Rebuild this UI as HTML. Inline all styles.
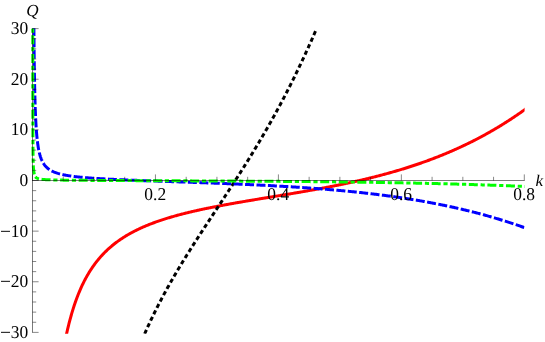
<!DOCTYPE html>
<html><head><meta charset="utf-8"><title>Q(k)</title>
<style>html,body{margin:0;padding:0;background:#fff;width:545px;height:342px;overflow:hidden;font-family:"Liberation Serif",serif}</style>
</head><body>
<svg width="545" height="342" viewBox="0 0 545 342" style="position:absolute;left:0;top:0;display:block">
<rect width="545" height="342" fill="#fff"/>
<clipPath id="pr"><rect x="0" y="28.2" width="524.6" height="305.5"/></clipPath>
<g fill="none" stroke-width="3.0" stroke-linejoin="round" clip-path="url(#pr)">
<path d="M65.30,339.85 65.46,339.07 65.62,338.29 65.78,337.50 65.95,336.72 66.12,335.94 66.28,335.16 66.45,334.38 66.63,333.59 66.80,332.81 66.97,332.03 67.15,331.25 67.33,330.47 67.51,329.69 67.69,328.91 67.88,328.14 68.06,327.36 68.25,326.58 68.44,325.80 68.63,325.03 68.82,324.25 69.02,323.48 69.22,322.70 69.42,321.93 69.62,321.15 69.82,320.38 70.03,319.61 70.23,318.83 70.44,318.06 70.66,317.29 70.87,316.52 71.09,315.75 71.31,314.98 71.53,314.21 71.75,313.44 71.98,312.68 72.21,311.91 72.44,311.14 72.67,310.38 72.91,309.62 73.14,308.85 73.39,308.09 73.63,307.33 73.88,306.57 74.12,305.81 74.38,305.05 74.63,304.29 74.89,303.53 75.15,302.78 75.41,302.02 75.68,301.27 75.95,300.51 76.22,299.76 76.49,299.01 76.77,298.26 77.05,297.51 77.34,296.76 77.63,296.02 77.92,295.27 78.21,294.53 78.51,293.79 78.81,293.04 79.11,292.31 79.42,291.57 79.73,290.83 80.05,290.09 80.37,289.36 80.69,288.63 81.01,287.90 81.34,287.17 81.68,286.44 82.01,285.72 82.35,284.99 82.70,284.27 83.05,283.55 83.40,282.83 83.75,282.12 84.12,281.40 84.48,280.69 84.85,279.98 85.22,279.27 85.60,278.57 85.98,277.87 86.36,277.16 86.75,276.47 87.15,275.77 87.55,275.08 87.95,274.39 88.36,273.70 88.77,273.01 89.18,272.33 89.60,271.65 90.03,270.97 90.46,270.30 90.89,269.62 91.33,268.96 91.78,268.29 92.22,267.63 92.68,266.97 93.13,266.31 93.60,265.66 94.06,265.01 94.53,264.36 95.01,263.72 95.49,263.08 95.98,262.45 96.47,261.81 96.96,261.19 97.46,260.56 97.97,259.94 98.47,259.32 98.99,258.71 99.51,258.10 100.03,257.50 100.56,256.89 101.09,256.30 101.63,255.70 102.17,255.12 102.71,254.53 103.26,253.95 103.82,253.37 104.38,252.80 104.94,252.24 105.51,251.67 106.08,251.11 106.66,250.56 107.24,250.01 107.83,249.47 108.41,248.93 109.01,248.39 109.61,247.86 110.21,247.33 110.81,246.81 111.42,246.29 112.04,245.78 112.65,245.27 113.28,244.77 113.90,244.27 114.53,243.77 115.16,243.28 115.80,242.80 116.44,242.31 117.08,241.84 117.72,241.37 118.37,240.90 119.03,240.44 119.68,239.98 120.34,239.53 121.00,239.08 121.67,238.63 122.34,238.19 123.01,237.76 123.68,237.33 124.36,236.90 125.04,236.48 125.72,236.06 126.40,235.65 127.09,235.24 127.78,234.83 128.47,234.43 129.17,234.03 129.86,233.64 130.56,233.25 131.26,232.87 131.97,232.49 132.67,232.11 133.38,231.74 134.09,231.37 134.80,231.01 135.52,230.65 136.23,230.29 136.95,229.94 137.67,229.59 138.39,229.24 139.11,228.90 139.84,228.56 140.56,228.22 141.29,227.89 142.02,227.56 142.75,227.24 143.48,226.92 144.22,226.60 144.95,226.28 145.69,225.97 146.43,225.66 147.17,225.36 147.91,225.06 148.65,224.76 149.39,224.46 150.14,224.17 150.88,223.88 151.63,223.59 152.38,223.31 153.12,223.02 153.87,222.75 154.62,222.47 155.38,222.20 156.13,221.92 156.88,221.66 157.64,221.39 158.39,221.13 159.15,220.87 159.90,220.61 160.66,220.35 161.42,220.10 162.18,219.85 162.94,219.60 163.70,219.36 164.46,219.11 165.23,218.87 165.99,218.63 166.75,218.39 167.52,218.16 168.28,217.92 169.05,217.69 169.81,217.46 170.58,217.24 171.35,217.01 172.12,216.79 172.89,216.57 173.65,216.35 174.42,216.13 175.19,215.92 175.97,215.70 176.74,215.49 177.51,215.28 178.28,215.07 179.05,214.86 179.83,214.66 180.60,214.45 181.37,214.25 182.15,214.05 182.92,213.85 183.70,213.65 184.47,213.46 185.25,213.26 186.02,213.07 186.80,212.88 187.58,212.69 188.36,212.50 189.13,212.31 189.91,212.13 190.69,211.94 191.47,211.76 192.25,211.58 193.03,211.40 193.80,211.22 194.58,211.04 195.36,210.86 196.14,210.68 196.92,210.51 197.71,210.33 198.49,210.16 199.27,209.99 200.05,209.82 200.83,209.65 201.61,209.48 202.39,209.31 203.18,209.15 203.96,208.98 204.74,208.82 205.52,208.65 206.31,208.49 207.09,208.33 207.87,208.17 208.66,208.01 209.44,207.85 210.23,207.69 211.01,207.53 211.79,207.38 212.58,207.22 213.36,207.07 214.15,206.91 214.93,206.76 215.72,206.61 216.50,206.45 217.29,206.30 218.08,206.15 218.86,206.00 219.65,205.85 220.43,205.71 221.22,205.56 222.00,205.41 222.79,205.26 223.58,205.12 224.36,204.97 225.15,204.83 225.94,204.68 226.72,204.54 227.51,204.40 228.30,204.25 229.08,204.11 229.87,203.97 230.66,203.83 231.45,203.69 232.23,203.55 233.02,203.41 233.81,203.27 234.60,203.13 235.38,202.99 236.17,202.85 236.96,202.72 237.75,202.58 238.54,202.44 239.32,202.31 240.11,202.17 240.90,202.03 241.69,201.90 242.48,201.76 243.27,201.63 244.05,201.49 244.84,201.36 245.63,201.23 246.42,201.09 247.21,200.96 248.00,200.83 248.79,200.69 249.57,200.56 250.36,200.43 251.15,200.30 251.94,200.16 252.73,200.03 253.52,199.90 254.31,199.77 255.10,199.64 255.89,199.51 256.67,199.38 257.46,199.25 258.25,199.11 259.04,198.98 259.83,198.85 260.62,198.72 261.41,198.59 262.20,198.46 262.99,198.33 263.78,198.20 264.57,198.07 265.36,197.94 266.14,197.81 266.93,197.68 267.72,197.55 268.51,197.42 269.30,197.29 270.09,197.17 270.88,197.04 271.67,196.91 272.46,196.78 273.25,196.65 274.04,196.52 274.83,196.39 275.62,196.26 276.40,196.13 277.19,196.00 277.98,195.87 278.77,195.74 279.56,195.61 280.35,195.48 281.14,195.34 281.93,195.21 282.72,195.08 283.51,194.95 284.30,194.82 285.08,194.69 285.87,194.56 286.66,194.43 287.45,194.30 288.24,194.16 289.03,194.03 289.82,193.90 290.61,193.77 291.40,193.63 292.18,193.50 292.97,193.37 293.76,193.23 294.55,193.10 295.34,192.97 296.13,192.83 296.92,192.70 297.70,192.56 298.49,192.43 299.28,192.29 300.07,192.16 300.86,192.02 301.64,191.89 302.43,191.75 303.22,191.61 304.01,191.48 304.80,191.34 305.58,191.20 306.37,191.06 307.16,190.92 307.95,190.78 308.74,190.64 309.52,190.51 310.31,190.37 311.10,190.22 311.89,190.08 312.67,189.94 313.46,189.80 314.25,189.66 315.03,189.52 315.82,189.37 316.61,189.23 317.39,189.09 318.18,188.94 318.97,188.80 319.75,188.65 320.54,188.51 321.33,188.36 322.11,188.21 322.90,188.06 323.69,187.92 324.47,187.77 325.26,187.62 326.04,187.47 326.83,187.32 327.61,187.17 328.40,187.02 329.18,186.87 329.97,186.72 330.76,186.56 331.54,186.41 332.32,186.26 333.11,186.10 333.89,185.95 334.68,185.79 335.46,185.63 336.25,185.48 337.03,185.32 337.82,185.16 338.60,185.00 339.38,184.84 340.17,184.68 340.95,184.52 341.73,184.36 342.52,184.20 343.30,184.04 344.08,183.87 344.87,183.71 345.65,183.54 346.43,183.38 347.21,183.21 348.00,183.04 348.78,182.88 349.56,182.71 350.34,182.54 351.12,182.37 351.90,182.20 352.69,182.03 353.47,181.85 354.25,181.68 355.03,181.51 355.81,181.33 356.59,181.16 357.37,180.98 358.15,180.80 358.93,180.63 359.71,180.45 360.49,180.27 361.27,180.09 362.05,179.91 362.82,179.72 363.60,179.54 364.38,179.36 365.16,179.17 365.94,178.99 366.72,178.80 367.49,178.61 368.27,178.43 369.05,178.24 369.82,178.05 370.60,177.86 371.38,177.66 372.15,177.47 372.93,177.28 373.71,177.08 374.48,176.89 375.26,176.69 376.03,176.49 376.81,176.30 377.58,176.10 378.36,175.90 379.13,175.70 379.90,175.49 380.68,175.29 381.45,175.09 382.22,174.88 383.00,174.67 383.77,174.47 384.54,174.26 385.31,174.05 386.09,173.84 386.86,173.63 387.63,173.42 388.40,173.20 389.17,172.99 389.94,172.77 390.71,172.56 391.48,172.34 392.25,172.12 393.02,171.90 393.79,171.68 394.55,171.46 395.32,171.23 396.09,171.01 396.86,170.78 397.62,170.56 398.39,170.33 399.16,170.10 399.92,169.87 400.69,169.64 401.45,169.41 402.22,169.17 402.98,168.94 403.75,168.70 404.51,168.47 405.28,168.23 406.04,167.99 406.80,167.75 407.57,167.51 408.33,167.27 409.09,167.02 409.85,166.78 410.61,166.53 411.37,166.28 412.13,166.04 412.89,165.79 413.65,165.53 414.41,165.28 415.17,165.03 415.93,164.77 416.68,164.52 417.44,164.26 418.20,164.00 418.96,163.74 419.71,163.48 420.47,163.22 421.22,162.96 421.98,162.69 422.73,162.43 423.49,162.16 424.24,161.89 424.99,161.62 425.74,161.35 426.50,161.08 427.25,160.80 428.00,160.53 428.75,160.25 429.50,159.97 430.25,159.69 431.00,159.41 431.75,159.13 432.49,158.85 433.24,158.56 433.99,158.28 434.74,157.99 435.48,157.70 436.23,157.41 436.97,157.12 437.72,156.83 438.46,156.54 439.20,156.24 439.95,155.95 440.69,155.65 441.43,155.35 442.17,155.05 442.91,154.75 443.65,154.44 444.39,154.14 445.13,153.83 445.87,153.53 446.61,153.22 447.35,152.91 448.08,152.60 448.82,152.28 449.55,151.97 450.29,151.65 451.02,151.34 451.76,151.02 452.49,150.70 453.22,150.38 453.95,150.05 454.69,149.73 455.42,149.40 456.15,149.08 456.87,148.75 457.60,148.42 458.33,148.09 459.06,147.75 459.79,147.42 460.51,147.09 461.24,146.75 461.96,146.41 462.69,146.07 463.41,145.73 464.13,145.39 464.85,145.04 465.58,144.70 466.30,144.35 467.02,144.00 467.74,143.65 468.45,143.30 469.17,142.95 469.89,142.60 470.61,142.24 471.32,141.88 472.04,141.53 472.75,141.17 473.47,140.80 474.18,140.44 474.89,140.08 475.60,139.71 476.31,139.35 477.02,138.98 477.73,138.61 478.44,138.24 479.15,137.86 479.86,137.49 480.56,137.11 481.27,136.74 481.97,136.36 482.68,135.98 483.38,135.60 484.08,135.21 484.78,134.83 485.48,134.45 486.18,134.06 486.88,133.67 487.58,133.28 488.28,132.89 488.97,132.50 489.67,132.10 490.37,131.71 491.06,131.31 491.75,130.91 492.45,130.51 493.14,130.11 493.83,129.71 494.52,129.30 495.21,128.90 495.90,128.49 496.58,128.08 497.27,127.67 497.96,127.26 498.64,126.85 499.33,126.43 500.01,126.02 500.69,125.60 501.37,125.18 502.06,124.76 502.74,124.34 503.41,123.92 504.09,123.50 504.77,123.07 505.45,122.64 506.12,122.22 506.80,121.79 507.47,121.35 508.14,120.92 508.82,120.49 509.49,120.05 510.16,119.62 510.83,119.18 511.50,118.74 512.16,118.30 512.83,117.86 513.50,117.41 514.16,116.97 514.82,116.52 515.49,116.08 516.15,115.63 516.81,115.18 517.47,114.73 518.13,114.27 518.79,113.82 519.45,113.36 520.10,112.91 520.76,112.45 521.41,111.99 522.07,111.53 522.72,111.07 523.37,110.60 524.02,110.14 524.67,109.67 525.32,109.20 525.97,108.74 526.62,108.27 527.26,107.79 527.91,107.32" stroke="#ff0000"/>
<path transform="translate(0.3,0)" d="M141.73,339.85 142.04,339.12 142.36,338.38 142.67,337.65 142.99,336.92 143.31,336.19 143.63,335.45 143.95,334.72 144.27,333.99 144.59,333.26 144.91,332.53 145.24,331.80 145.56,331.07 145.89,330.34 146.21,329.61 146.54,328.89 146.87,328.16 147.20,327.43 147.54,326.71 147.87,325.98 148.20,325.26 148.54,324.53 148.87,323.81 149.21,323.08 149.55,322.36 149.89,321.64 150.23,320.92 150.57,320.19 150.91,319.47 151.26,318.75 151.60,318.03 151.95,317.31 152.29,316.59 152.64,315.87 152.99,315.16 153.34,314.44 153.69,313.72 154.04,313.00 154.40,312.29 154.75,311.57 155.11,310.86 155.46,310.14 155.82,309.43 156.18,308.72 156.54,308.00 156.90,307.29 157.26,306.58 157.62,305.87 157.98,305.16 158.35,304.45 158.71,303.74 159.08,303.03 159.45,302.32 159.81,301.61 160.18,300.90 160.55,300.19 160.93,299.49 161.30,298.78 161.67,298.07 162.05,297.37 162.42,296.66 162.80,295.96 163.17,295.26 163.55,294.55 163.93,293.85 164.31,293.15 164.69,292.45 165.07,291.74 165.45,291.04 165.84,290.34 166.22,289.64 166.61,288.94 166.99,288.25 167.38,287.55 167.77,286.85 168.16,286.15 168.55,285.46 168.94,284.76 169.33,284.06 169.72,283.37 170.11,282.67 170.51,281.98 170.90,281.28 171.30,280.59 171.70,279.90 172.09,279.21 172.49,278.51 172.89,277.82 173.29,277.13 173.69,276.44 174.09,275.75 174.49,275.06 174.90,274.37 175.30,273.68 175.70,272.99 176.11,272.30 176.51,271.62 176.92,270.93 177.33,270.24 177.74,269.56 178.14,268.87 178.55,268.19 178.96,267.50 179.38,266.82 179.79,266.13 180.20,265.45 180.61,264.76 181.02,264.08 181.44,263.40 181.85,262.72 182.27,262.03 182.68,261.35 183.10,260.67 183.52,259.99 183.94,259.31 184.35,258.63 184.77,257.95 185.19,257.27 185.61,256.59 186.03,255.91 186.46,255.24 186.88,254.56 187.30,253.88 187.72,253.20 188.15,252.53 188.57,251.85 188.99,251.17 189.42,250.50 189.84,249.82 190.27,249.15 190.70,248.47 191.12,247.80 191.55,247.12 191.98,246.45 192.41,245.77 192.83,245.10 193.26,244.43 193.69,243.75 194.12,243.08 194.55,242.41 194.98,241.74 195.41,241.06 195.85,240.39 196.28,239.72 196.71,239.05 197.14,238.38 197.57,237.71 198.01,237.04 198.44,236.36 198.87,235.69 199.31,235.02 199.74,234.35 200.18,233.68 200.61,233.01 201.05,232.35 201.48,231.68 201.92,231.01 202.35,230.34 202.79,229.67 203.22,229.00 203.66,228.33 204.10,227.66 204.53,226.99 204.97,226.33 205.41,225.66 205.85,224.99 206.28,224.32 206.72,223.66 207.16,222.99 207.60,222.32 208.04,221.65 208.47,220.99 208.91,220.32 209.35,219.65 209.79,218.98 210.23,218.32 210.67,217.65 211.11,216.98 211.54,216.32 211.98,215.65 212.42,214.98 212.86,214.31 213.30,213.65 213.74,212.98 214.18,212.31 214.62,211.65 215.06,210.98 215.50,210.31 215.94,209.65 216.37,208.98 216.81,208.31 217.25,207.65 217.69,206.98 218.13,206.31 218.57,205.65 219.01,204.98 219.45,204.31 219.89,203.65 220.32,202.98 220.76,202.31 221.20,201.64 221.64,200.98 222.08,200.31 222.52,199.64 222.95,198.97 223.39,198.31 223.83,197.64 224.27,196.97 224.70,196.30 225.14,195.63 225.58,194.97 226.02,194.30 226.45,193.63 226.89,192.96 227.33,192.29 227.76,191.62 228.20,190.96 228.63,190.29 229.07,189.62 229.50,188.95 229.94,188.28 230.37,187.61 230.81,186.94 231.24,186.27 231.68,185.60 232.11,184.93 232.54,184.26 232.98,183.59 233.41,182.92 233.84,182.25 234.28,181.57 234.71,180.90 235.14,180.23 235.57,179.56 236.00,178.89 236.43,178.22 236.86,177.54 237.29,176.87 237.72,176.20 238.15,175.52 238.58,174.85 239.01,174.18 239.44,173.50 239.87,172.83 240.30,172.16 240.72,171.48 241.15,170.81 241.58,170.13 242.00,169.46 242.43,168.78 242.86,168.11 243.28,167.43 243.70,166.75 244.13,166.08 244.55,165.40 244.98,164.73 245.40,164.05 245.82,163.37 246.24,162.69 246.67,162.02 247.09,161.34 247.51,160.66 247.93,159.98 248.35,159.30 248.77,158.62 249.19,157.94 249.61,157.26 250.02,156.58 250.44,155.90 250.86,155.22 251.28,154.54 251.69,153.86 252.11,153.18 252.52,152.50 252.94,151.81 253.35,151.13 253.77,150.45 254.18,149.76 254.59,149.08 255.01,148.40 255.42,147.71 255.83,147.03 256.24,146.35 256.65,145.66 257.06,144.98 257.47,144.29 257.88,143.60 258.29,142.92 258.69,142.23 259.10,141.54 259.51,140.86 259.91,140.17 260.32,139.48 260.73,138.79 261.13,138.11 261.53,137.42 261.94,136.73 262.34,136.04 262.74,135.35 263.14,134.66 263.55,133.97 263.95,133.28 264.35,132.59 264.75,131.90 265.15,131.21 265.54,130.51 265.94,129.82 266.34,129.13 266.74,128.44 267.13,127.74 267.53,127.05 267.92,126.36 268.32,125.66 268.71,124.97 269.10,124.27 269.50,123.58 269.89,122.88 270.28,122.19 270.67,121.49 271.06,120.79 271.45,120.10 271.84,119.40 272.23,118.70 272.62,118.00 273.01,117.31 273.39,116.61 273.78,115.91 274.16,115.21 274.55,114.51 274.93,113.81 275.32,113.11 275.70,112.41 276.08,111.71 276.47,111.01 276.85,110.31 277.23,109.60 277.61,108.90 277.99,108.20 278.37,107.50 278.75,106.79 279.12,106.09 279.50,105.39 279.88,104.68 280.25,103.98 280.63,103.27 281.00,102.57 281.38,101.86 281.75,101.16 282.12,100.45 282.50,99.75 282.87,99.04 283.24,98.33 283.61,97.63 283.98,96.92 284.35,96.21 284.72,95.50 285.09,94.79 285.45,94.09 285.82,93.38 286.19,92.67 286.55,91.96 286.92,91.25 287.28,90.54 287.65,89.83 288.01,89.11 288.37,88.40 288.73,87.69 289.09,86.98 289.46,86.27 289.82,85.56 290.18,84.84 290.53,84.13 290.89,83.42 291.25,82.70 291.61,81.99 291.96,81.27 292.32,80.56 292.68,79.84 293.03,79.13 293.38,78.41 293.74,77.70 294.09,76.98 294.44,76.26 294.79,75.55 295.15,74.83 295.50,74.11 295.85,73.40 296.20,72.68 296.54,71.96 296.89,71.24 297.24,70.52 297.59,69.80 297.93,69.08 298.28,68.36 298.62,67.64 298.97,66.92 299.31,66.20 299.65,65.48 300.00,64.76 300.34,64.04 300.68,63.32 301.02,62.60 301.36,61.87 301.70,61.15 302.04,60.43 302.38,59.70 302.72,58.98 303.05,58.26 303.39,57.53 303.73,56.81 304.06,56.09 304.40,55.36 304.73,54.64 305.07,53.91 305.40,53.18 305.73,52.46 306.06,51.73 306.40,51.01 306.73,50.28 307.06,49.55 307.39,48.83 307.72,48.10 308.04,47.37 308.37,46.64 308.70,45.91 309.03,45.19 309.35,44.46 309.68,43.73 310.00,43.00 310.33,42.27 310.65,41.54 310.98,40.81 311.30,40.08 311.62,39.35 311.94,38.62 312.26,37.89 312.58,37.16 312.90,36.43 313.22,35.69 313.54,34.96 313.86,34.23 314.18,33.50 314.50,32.76 314.81,32.03 315.13,31.30 315.44,30.56" stroke="#000000" stroke-dasharray="4.27 2.89" stroke-dashoffset="0.50"/>
<path d="M33.85,20.95 33.86,21.75 33.86,22.55 33.87,23.35 33.87,24.15 33.88,24.95 33.89,25.75 33.89,26.55 33.90,27.35 33.91,28.15 33.91,28.95 33.92,29.74 33.93,30.54 33.93,31.34 33.94,32.14 33.95,32.94 33.95,33.74 33.96,34.54 33.97,35.34 33.97,36.14 33.98,36.94 33.99,37.74 33.99,38.54 34.00,39.34 34.01,40.14 34.02,40.94 34.02,41.74 34.03,42.54 34.04,43.34 34.05,44.14 34.06,44.94 34.06,45.74 34.07,46.54 34.08,47.34 34.09,48.14 34.10,48.94 34.11,49.74 34.11,50.54 34.12,51.34 34.13,52.14 34.14,52.94 34.15,53.74 34.16,54.54 34.17,55.34 34.18,56.14 34.19,56.94 34.20,57.74 34.21,58.54 34.22,59.34 34.23,60.14 34.24,60.94 34.25,61.74 34.26,62.54 34.27,63.34 34.28,64.14 34.29,64.94 34.30,65.74 34.31,66.53 34.32,67.33 34.34,68.13 34.35,68.93 34.36,69.73 34.37,70.53 34.38,71.33 34.40,72.13 34.41,72.93 34.42,73.73 34.43,74.53 34.45,75.33 34.46,76.13 34.47,76.93 34.49,77.73 34.50,78.53 34.52,79.33 34.53,80.13 34.55,80.93 34.56,81.73 34.58,82.53 34.59,83.33 34.61,84.13 34.62,84.93 34.64,85.73 34.66,86.53 34.67,87.33 34.69,88.13 34.71,88.93 34.73,89.73 34.74,90.53 34.76,91.33 34.78,92.13 34.80,92.92 34.82,93.72 34.84,94.52 34.86,95.32 34.88,96.12 34.90,96.92 34.92,97.72 34.94,98.52 34.97,99.32 34.99,100.12 35.01,100.92 35.03,101.72 35.06,102.52 35.08,103.32 35.11,104.12 35.13,104.92 35.16,105.72 35.19,106.52 35.21,107.32 35.24,108.12 35.27,108.91 35.30,109.71 35.33,110.51 35.36,111.31 35.39,112.11 35.42,112.91 35.45,113.71 35.49,114.51 35.52,115.31 35.56,116.11 35.59,116.91 35.63,117.71 35.67,118.50 35.71,119.30 35.75,120.10 35.79,120.90 35.83,121.70 35.87,122.50 35.92,123.30 35.96,124.10 36.01,124.89 36.06,125.69 36.11,126.49 36.16,127.29 36.21,128.09 36.27,128.88 36.32,129.68 36.38,130.48 36.44,131.28 36.50,132.08 36.56,132.87 36.63,133.67 36.70,134.47 36.77,135.26 36.84,136.06 36.92,136.86 37.00,137.65 37.08,138.45 37.16,139.24 37.25,140.04 37.34,140.83 37.44,141.63 37.54,142.42 37.64,143.21 37.75,144.01 37.86,144.80 37.98,145.59 38.10,146.38 38.23,147.17 38.36,147.96 38.50,148.74 38.65,149.53 38.80,150.32 38.97,151.10 39.14,151.88 39.32,152.66 39.51,153.44 39.71,154.21 39.92,154.98 40.15,155.75 40.38,156.51 40.63,157.27 40.90,158.03 41.18,158.78 41.48,159.52 41.80,160.25 42.14,160.98 42.49,161.69 42.87,162.40 43.28,163.09 43.70,163.76 44.15,164.43 44.63,165.07 45.13,165.69 45.65,166.30 46.20,166.88 46.77,167.44 47.36,167.98 47.98,168.49 48.61,168.98 49.26,169.44 49.93,169.88 50.61,170.30 51.31,170.69 52.02,171.06 52.74,171.41 53.46,171.74 54.20,172.06 54.94,172.35 55.69,172.63 56.45,172.90 57.21,173.15 57.97,173.39 58.74,173.61 59.51,173.83 60.28,174.03 61.06,174.23 61.83,174.41 62.61,174.59 63.40,174.76 64.18,174.92 64.96,175.07 65.75,175.22 66.54,175.36 67.33,175.50 68.11,175.63 68.90,175.75 69.70,175.88 70.49,175.99 71.28,176.11 72.07,176.21 72.86,176.32 73.66,176.42 74.45,176.52 75.24,176.62 76.04,176.71 76.83,176.80 77.63,176.88 78.42,176.97 79.22,177.05 80.02,177.13 80.81,177.21 81.61,177.29 82.40,177.36 83.20,177.43 84.00,177.50 84.79,177.57 85.59,177.64 86.39,177.70 87.19,177.77 87.98,177.83 88.78,177.89 89.58,177.95 90.38,178.01 91.17,178.07 91.97,178.13 92.77,178.18 93.57,178.24 94.37,178.29 95.16,178.35 95.96,178.40 96.76,178.45 97.56,178.50 98.36,178.55 99.15,178.60 99.95,178.64 100.75,178.69 101.55,178.74 102.35,178.78 103.15,178.83 103.95,178.87 104.74,178.92 105.54,178.96 106.34,179.00 107.14,179.05 107.94,179.09 108.74,179.13 109.54,179.17 110.34,179.21 111.13,179.25 111.93,179.29 112.73,179.33 113.53,179.37 114.33,179.41 115.13,179.44 115.93,179.48 116.73,179.52 117.53,179.55 118.32,179.59 119.12,179.63 119.92,179.66 120.72,179.70 121.52,179.73 122.32,179.77 123.12,179.80 123.92,179.84 124.72,179.87 125.52,179.91 126.32,179.94 127.11,179.97 127.91,180.01 128.71,180.04 129.51,180.07 130.31,180.10 131.11,180.14 131.91,180.17 132.71,180.20 133.51,180.23 134.31,180.26 135.11,180.29 135.91,180.33 136.70,180.36 137.50,180.39 138.30,180.42 139.10,180.45 139.90,180.48 140.70,180.51 141.50,180.54 142.30,180.57 143.10,180.60 143.90,180.63 144.70,180.66 145.50,180.69 146.30,180.72 147.10,180.75 147.89,180.78 148.69,180.81 149.49,180.84 150.29,180.86 151.09,180.89 151.89,180.92 152.69,180.95 153.49,180.98 154.29,181.01 155.09,181.04 155.89,181.07 156.69,181.09 157.49,181.12 158.29,181.15 159.08,181.18 159.88,181.21 160.68,181.24 161.48,181.26 162.28,181.29 163.08,181.32 163.88,181.35 164.68,181.38 165.48,181.40 166.28,181.43 167.08,181.46 167.88,181.49 168.68,181.52 169.48,181.54 170.28,181.57 171.08,181.60 171.87,181.63 172.67,181.66 173.47,181.68 174.27,181.71 175.07,181.74 175.87,181.77 176.67,181.79 177.47,181.82 178.27,181.85 179.07,181.88 179.87,181.91 180.67,181.93 181.47,181.96 182.27,181.99 183.07,182.02 183.86,182.05 184.66,182.07 185.46,182.10 186.26,182.13 187.06,182.16 187.86,182.19 188.66,182.21 189.46,182.24 190.26,182.27 191.06,182.30 191.86,182.33 192.66,182.36 193.46,182.38 194.26,182.41 195.06,182.44 195.85,182.47 196.65,182.50 197.45,182.53 198.25,182.56 199.05,182.58 199.85,182.61 200.65,182.64 201.45,182.67 202.25,182.70 203.05,182.73 203.85,182.76 204.65,182.79 205.45,182.82 206.25,182.85 207.04,182.88 207.84,182.91 208.64,182.94 209.44,182.96 210.24,182.99 211.04,183.02 211.84,183.05 212.64,183.08 213.44,183.11 214.24,183.15 215.04,183.18 215.84,183.21 216.64,183.24 217.44,183.27 218.23,183.30 219.03,183.33 219.83,183.36 220.63,183.39 221.43,183.42 222.23,183.45 223.03,183.49 223.83,183.52 224.63,183.55 225.43,183.58 226.23,183.61 227.03,183.64 227.82,183.68 228.62,183.71 229.42,183.74 230.22,183.77 231.02,183.81 231.82,183.84 232.62,183.87 233.42,183.91 234.22,183.94 235.02,183.97 235.82,184.01 236.62,184.04 237.41,184.07 238.21,184.11 239.01,184.14 239.81,184.18 240.61,184.21 241.41,184.25 242.21,184.28 243.01,184.32 243.81,184.35 244.61,184.39 245.41,184.42 246.20,184.46 247.00,184.49 247.80,184.53 248.60,184.57 249.40,184.60 250.20,184.64 251.00,184.68 251.80,184.71 252.60,184.75 253.40,184.79 254.19,184.83 254.99,184.86 255.79,184.90 256.59,184.94 257.39,184.98 258.19,185.02 258.99,185.06 259.79,185.10 260.59,185.14 261.38,185.17 262.18,185.21 262.98,185.25 263.78,185.29 264.58,185.33 265.38,185.38 266.18,185.42 266.98,185.46 267.77,185.50 268.57,185.54 269.37,185.58 270.17,185.62 270.97,185.67 271.77,185.71 272.57,185.75 273.37,185.79 274.16,185.84 274.96,185.88 275.76,185.92 276.56,185.97 277.36,186.01 278.16,186.06 278.96,186.10 279.75,186.15 280.55,186.19 281.35,186.24 282.15,186.28 282.95,186.33 283.75,186.38 284.55,186.42 285.34,186.47 286.14,186.52 286.94,186.57 287.74,186.61 288.54,186.66 289.34,186.71 290.13,186.76 290.93,186.81 291.73,186.86 292.53,186.91 293.33,186.96 294.13,187.01 294.92,187.06 295.72,187.11 296.52,187.16 297.32,187.21 298.12,187.26 298.91,187.32 299.71,187.37 300.51,187.42 301.31,187.47 302.11,187.53 302.91,187.58 303.70,187.64 304.50,187.69 305.30,187.74 306.10,187.80 306.89,187.86 307.69,187.91 308.49,187.97 309.29,188.02 310.09,188.08 310.88,188.14 311.68,188.20 312.48,188.26 313.28,188.31 314.07,188.37 314.87,188.43 315.67,188.49 316.47,188.55 317.27,188.61 318.06,188.67 318.86,188.73 319.66,188.80 320.46,188.86 321.25,188.92 322.05,188.98 322.85,189.05 323.64,189.11 324.44,189.17 325.24,189.24 326.04,189.30 326.83,189.37 327.63,189.43 328.43,189.50 329.22,189.57 330.02,189.63 330.82,189.70 331.62,189.77 332.41,189.84 333.21,189.91 334.01,189.98 334.80,190.04 335.60,190.11 336.40,190.19 337.19,190.26 337.99,190.33 338.79,190.40 339.58,190.47 340.38,190.54 341.18,190.62 341.97,190.69 342.77,190.77 343.57,190.84 344.36,190.92 345.16,190.99 345.95,191.07 346.75,191.14 347.55,191.22 348.34,191.30 349.14,191.38 349.93,191.46 350.73,191.54 351.53,191.62 352.32,191.70 353.12,191.78 353.91,191.86 354.71,191.94 355.50,192.02 356.30,192.11 357.10,192.19 357.89,192.27 358.69,192.36 359.48,192.44 360.28,192.53 361.07,192.61 361.87,192.70 362.66,192.79 363.46,192.88 364.25,192.96 365.05,193.05 365.84,193.14 366.64,193.23 367.43,193.32 368.23,193.41 369.02,193.51 369.81,193.60 370.61,193.69 371.40,193.78 372.20,193.88 372.99,193.97 373.79,194.07 374.58,194.16 375.37,194.26 376.17,194.36 376.96,194.46 377.76,194.55 378.55,194.65 379.34,194.75 380.14,194.85 380.93,194.95 381.72,195.05 382.52,195.16 383.31,195.26 384.10,195.36 384.90,195.47 385.69,195.57 386.48,195.68 387.27,195.78 388.07,195.89 388.86,196.00 389.65,196.10 390.44,196.21 391.24,196.32 392.03,196.43 392.82,196.54 393.61,196.65 394.41,196.77 395.20,196.88 395.99,196.99 396.78,197.11 397.57,197.22 398.36,197.34 399.16,197.45 399.95,197.57 400.74,197.69 401.53,197.80 402.32,197.92 403.11,198.04 403.90,198.16 404.69,198.28 405.48,198.41 406.27,198.53 407.06,198.65 407.85,198.78 408.64,198.90 409.43,199.03 410.22,199.15 411.01,199.28 411.80,199.41 412.59,199.54 413.38,199.67 414.17,199.80 414.96,199.93 415.75,200.06 416.54,200.19 417.33,200.32 418.11,200.46 418.90,200.59 419.69,200.73 420.48,200.86 421.27,201.00 422.05,201.14 422.84,201.28 423.63,201.42 424.42,201.56 425.20,201.70 425.99,201.84 426.78,201.98 427.57,202.13 428.35,202.27 429.14,202.42 429.93,202.56 430.71,202.71 431.50,202.86 432.28,203.01 433.07,203.15 433.85,203.30 434.64,203.46 435.43,203.61 436.21,203.76 437.00,203.91 437.78,204.07 438.56,204.22 439.35,204.38 440.13,204.54 440.92,204.70 441.70,204.85 442.49,205.01 443.27,205.17 444.05,205.34 444.84,205.50 445.62,205.66 446.40,205.83 447.18,205.99 447.97,206.16 448.75,206.32 449.53,206.49 450.31,206.66 451.09,206.83 451.88,207.00 452.66,207.17 453.44,207.34 454.22,207.52 455.00,207.69 455.78,207.87 456.56,208.04 457.34,208.22 458.12,208.40 458.90,208.58 459.68,208.76 460.46,208.94 461.24,209.12 462.01,209.30 462.79,209.49 463.57,209.67 464.35,209.86 465.13,210.04 465.90,210.23 466.68,210.42 467.46,210.61 468.24,210.80 469.01,210.99 469.79,211.18 470.56,211.38 471.34,211.57 472.12,211.77 472.89,211.96 473.67,212.16 474.44,212.36 475.22,212.56 475.99,212.76 476.76,212.96 477.54,213.16 478.31,213.37 479.08,213.57 479.86,213.78 480.63,213.98 481.40,214.19 482.17,214.40 482.95,214.61 483.72,214.82 484.49,215.03 485.26,215.25 486.03,215.46 486.80,215.67 487.57,215.89 488.34,216.11 489.11,216.33 489.88,216.54 490.65,216.77 491.42,216.99 492.19,217.21 492.95,217.43 493.72,217.66 494.49,217.88 495.26,218.11 496.02,218.34 496.79,218.57 497.56,218.80 498.32,219.03 499.09,219.26 499.85,219.49 500.62,219.73 501.38,219.96 502.15,220.20 502.91,220.43 503.67,220.67 504.44,220.91 505.20,221.15 505.96,221.40 506.72,221.64 507.48,221.88 508.25,222.13 509.01,222.37 509.77,222.62 510.53,222.87 511.29,223.12 512.05,223.37 512.81,223.62 513.56,223.88 514.32,224.13 515.08,224.38 515.84,224.64 516.60,224.90 517.35,225.16 518.11,225.42 518.87,225.68 519.62,225.94 520.38,226.20 521.13,226.47 521.89,226.73 522.64,227.00 523.39,227.27 524.15,227.54 524.90,227.81 525.65,228.08 526.40,228.35 527.16,228.62 527.91,228.90" stroke="#0000ff" stroke-dasharray="9 2.44" stroke-dashoffset="5.46"/>
<path d="M32.76,20.95 32.76,21.75 32.76,22.55 32.76,23.35 32.76,24.15 32.76,24.95 32.76,25.75 32.76,26.55 32.76,27.35 32.76,28.15 32.76,28.95 32.76,29.75 32.76,30.55 32.76,31.35 32.76,32.14 32.76,32.94 32.76,33.74 32.76,34.54 32.76,35.34 32.76,36.14 32.77,36.94 32.77,37.74 32.77,38.54 32.77,39.34 32.77,40.14 32.77,40.94 32.77,41.74 32.77,42.54 32.77,43.34 32.77,44.14 32.77,44.94 32.77,45.74 32.77,46.54 32.77,47.34 32.77,48.14 32.77,48.94 32.77,49.74 32.77,50.54 32.77,51.34 32.77,52.14 32.77,52.94 32.77,53.74 32.77,54.54 32.77,55.34 32.78,56.14 32.78,56.94 32.78,57.74 32.78,58.54 32.78,59.34 32.78,60.14 32.78,60.94 32.78,61.74 32.78,62.54 32.78,63.34 32.78,64.14 32.78,64.94 32.78,65.74 32.78,66.54 32.78,67.34 32.78,68.14 32.78,68.94 32.78,69.74 32.79,70.54 32.79,71.34 32.79,72.14 32.79,72.94 32.79,73.74 32.79,74.54 32.79,75.34 32.79,76.14 32.79,76.94 32.79,77.74 32.79,78.54 32.79,79.34 32.79,80.14 32.79,80.94 32.79,81.74 32.80,82.54 32.80,83.34 32.80,84.13 32.80,84.93 32.80,85.73 32.80,86.53 32.80,87.33 32.80,88.13 32.80,88.93 32.80,89.73 32.80,90.53 32.80,91.33 32.81,92.13 32.81,92.93 32.81,93.73 32.81,94.53 32.81,95.33 32.81,96.13 32.81,96.93 32.81,97.73 32.81,98.53 32.82,99.33 32.82,100.13 32.82,100.93 32.82,101.73 32.82,102.53 32.82,103.33 32.82,104.13 32.82,104.93 32.83,105.73 32.83,106.53 32.83,107.33 32.83,108.13 32.83,108.93 32.83,109.73 32.83,110.53 32.84,111.33 32.84,112.13 32.84,112.93 32.84,113.73 32.84,114.53 32.84,115.33 32.85,116.13 32.85,116.93 32.85,117.73 32.85,118.53 32.85,119.33 32.86,120.13 32.86,120.93 32.86,121.73 32.86,122.53 32.86,123.33 32.87,124.13 32.87,124.93 32.87,125.73 32.87,126.53 32.88,127.33 32.88,128.13 32.88,128.93 32.88,129.73 32.89,130.53 32.89,131.33 32.89,132.13 32.90,132.93 32.90,133.73 32.90,134.53 32.91,135.33 32.91,136.12 32.92,136.92 32.92,137.72 32.92,138.52 32.93,139.32 32.93,140.12 32.94,140.92 32.94,141.72 32.95,142.52 32.95,143.32 32.96,144.12 32.96,144.92 32.97,145.72 32.98,146.52 32.98,147.32 32.99,148.12 33.00,148.92 33.01,149.72 33.01,150.52 33.02,151.32 33.03,152.12 33.04,152.92 33.05,153.72 33.06,154.52 33.07,155.32 33.09,156.12 33.10,156.92 33.11,157.72 33.13,158.52 33.14,159.32 33.16,160.12 33.18,160.92 33.20,161.72 33.22,162.52 33.25,163.32 33.28,164.12 33.31,164.92 33.34,165.71 33.38,166.51 33.42,167.31 33.47,168.11 33.52,168.91 33.58,169.71 33.65,170.50 33.74,171.30 33.84,172.09 33.96,172.88 34.11,173.67 34.29,174.45 34.53,175.21 34.84,175.95 35.24,176.64 35.75,177.25 36.36,177.77 37.05,178.17 37.79,178.49 38.55,178.73 39.33,178.92 40.11,179.07 40.90,179.20 41.69,179.30 42.49,179.39 43.29,179.46 44.08,179.53 44.88,179.59 45.68,179.64 46.48,179.68 47.28,179.72 48.07,179.76 48.87,179.79 49.67,179.82 50.47,179.85 51.27,179.88 52.07,179.90 52.87,179.92 53.67,179.94 54.47,179.96 55.27,179.98 56.07,180.00 56.87,180.02 57.67,180.03 58.47,180.05 59.27,180.06 60.07,180.08 60.87,180.09 61.67,180.10 62.47,180.11 63.27,180.13 64.07,180.14 64.87,180.15 65.67,180.16 66.47,180.17 67.27,180.18 68.07,180.19 68.87,180.20 69.67,180.20 70.46,180.21 71.26,180.22 72.06,180.23 72.86,180.24 73.66,180.25 74.46,180.25 75.26,180.26 76.06,180.27 76.86,180.28 77.66,180.28 78.46,180.29 79.26,180.30 80.06,180.30 80.86,180.31 81.66,180.32 82.46,180.32 83.26,180.33 84.06,180.33 84.86,180.34 85.66,180.35 86.46,180.35 87.26,180.36 88.06,180.36 88.86,180.37 89.66,180.37 90.46,180.38 91.26,180.39 92.06,180.39 92.86,180.40 93.66,180.40 94.46,180.41 95.26,180.41 96.06,180.42 96.86,180.42 97.66,180.43 98.46,180.43 99.26,180.44 100.06,180.44 100.86,180.45 101.66,180.45 102.46,180.45 103.26,180.46 104.06,180.46 104.86,180.47 105.66,180.47 106.46,180.48 107.26,180.48 108.06,180.49 108.86,180.49 109.66,180.50 110.46,180.50 111.26,180.50 112.06,180.51 112.86,180.51 113.66,180.52 114.46,180.52 115.26,180.52 116.06,180.53 116.85,180.53 117.65,180.54 118.45,180.54 119.25,180.55 120.05,180.55 120.85,180.55 121.65,180.56 122.45,180.56 123.25,180.57 124.05,180.57 124.85,180.57 125.65,180.58 126.45,180.58 127.25,180.58 128.05,180.59 128.85,180.59 129.65,180.60 130.45,180.60 131.25,180.60 132.05,180.61 132.85,180.61 133.65,180.62 134.45,180.62 135.25,180.62 136.05,180.63 136.85,180.63 137.65,180.63 138.45,180.64 139.25,180.64 140.05,180.65 140.85,180.65 141.65,180.65 142.45,180.66 143.25,180.66 144.05,180.66 144.85,180.67 145.65,180.67 146.45,180.67 147.25,180.68 148.05,180.68 148.85,180.69 149.65,180.69 150.45,180.69 151.25,180.70 152.05,180.70 152.85,180.70 153.65,180.71 154.45,180.71 155.25,180.71 156.05,180.72 156.85,180.72 157.65,180.72 158.45,180.73 159.25,180.73 160.05,180.74 160.85,180.74 161.65,180.74 162.45,180.75 163.25,180.75 164.05,180.75 164.85,180.76 165.65,180.76 166.44,180.76 167.24,180.77 168.04,180.77 168.84,180.77 169.64,180.78 170.44,180.78 171.24,180.78 172.04,180.79 172.84,180.79 173.64,180.80 174.44,180.80 175.24,180.80 176.04,180.81 176.84,180.81 177.64,180.81 178.44,180.82 179.24,180.82 180.04,180.82 180.84,180.83 181.64,180.83 182.44,180.83 183.24,180.84 184.04,180.84 184.84,180.85 185.64,180.85 186.44,180.85 187.24,180.86 188.04,180.86 188.84,180.86 189.64,180.87 190.44,180.87 191.24,180.87 192.04,180.88 192.84,180.88 193.64,180.89 194.44,180.89 195.24,180.89 196.04,180.90 196.84,180.90 197.64,180.90 198.44,180.91 199.24,180.91 200.04,180.92 200.84,180.92 201.64,180.92 202.44,180.93 203.24,180.93 204.04,180.93 204.84,180.94 205.64,180.94 206.44,180.95 207.24,180.95 208.04,180.95 208.84,180.96 209.64,180.96 210.44,180.96 211.24,180.97 212.04,180.97 212.84,180.98 213.64,180.98 214.44,180.98 215.24,180.99 216.03,180.99 216.83,181.00 217.63,181.00 218.43,181.00 219.23,181.01 220.03,181.01 220.83,181.02 221.63,181.02 222.43,181.02 223.23,181.03 224.03,181.03 224.83,181.04 225.63,181.04 226.43,181.05 227.23,181.05 228.03,181.05 228.83,181.06 229.63,181.06 230.43,181.07 231.23,181.07 232.03,181.08 232.83,181.08 233.63,181.08 234.43,181.09 235.23,181.09 236.03,181.10 236.83,181.10 237.63,181.11 238.43,181.11 239.23,181.11 240.03,181.12 240.83,181.12 241.63,181.13 242.43,181.13 243.23,181.14 244.03,181.14 244.83,181.15 245.63,181.15 246.43,181.16 247.23,181.16 248.03,181.17 248.83,181.17 249.63,181.18 250.43,181.18 251.23,181.18 252.03,181.19 252.83,181.19 253.63,181.20 254.43,181.20 255.23,181.21 256.03,181.21 256.83,181.22 257.63,181.22 258.43,181.23 259.23,181.23 260.03,181.24 260.83,181.24 261.63,181.25 262.43,181.26 263.23,181.26 264.02,181.27 264.82,181.27 265.62,181.28 266.42,181.28 267.22,181.29 268.02,181.29 268.82,181.30 269.62,181.30 270.42,181.31 271.22,181.31 272.02,181.32 272.82,181.33 273.62,181.33 274.42,181.34 275.22,181.34 276.02,181.35 276.82,181.35 277.62,181.36 278.42,181.37 279.22,181.37 280.02,181.38 280.82,181.38 281.62,181.39 282.42,181.40 283.22,181.40 284.02,181.41 284.82,181.41 285.62,181.42 286.42,181.43 287.22,181.43 288.02,181.44 288.82,181.44 289.62,181.45 290.42,181.46 291.22,181.46 292.02,181.47 292.82,181.48 293.62,181.48 294.42,181.49 295.22,181.50 296.02,181.50 296.82,181.51 297.62,181.52 298.42,181.52 299.22,181.53 300.02,181.54 300.82,181.54 301.62,181.55 302.42,181.56 303.22,181.56 304.02,181.57 304.82,181.58 305.62,181.59 306.42,181.59 307.22,181.60 308.02,181.61 308.82,181.61 309.61,181.62 310.41,181.63 311.21,181.64 312.01,181.64 312.81,181.65 313.61,181.66 314.41,181.67 315.21,181.67 316.01,181.68 316.81,181.69 317.61,181.70 318.41,181.71 319.21,181.71 320.01,181.72 320.81,181.73 321.61,181.74 322.41,181.75 323.21,181.75 324.01,181.76 324.81,181.77 325.61,181.78 326.41,181.79 327.21,181.80 328.01,181.80 328.81,181.81 329.61,181.82 330.41,181.83 331.21,181.84 332.01,181.85 332.81,181.86 333.61,181.87 334.41,181.87 335.21,181.88 336.01,181.89 336.81,181.90 337.61,181.91 338.41,181.92 339.21,181.93 340.01,181.94 340.81,181.95 341.61,181.96 342.41,181.97 343.21,181.98 344.01,181.99 344.81,182.00 345.61,182.01 346.41,182.01 347.21,182.02 348.01,182.03 348.81,182.04 349.60,182.05 350.40,182.06 351.20,182.07 352.00,182.09 352.80,182.10 353.60,182.11 354.40,182.12 355.20,182.13 356.00,182.14 356.80,182.15 357.60,182.16 358.40,182.17 359.20,182.18 360.00,182.19 360.80,182.20 361.60,182.21 362.40,182.22 363.20,182.23 364.00,182.25 364.80,182.26 365.60,182.27 366.40,182.28 367.20,182.29 368.00,182.30 368.80,182.31 369.60,182.33 370.40,182.34 371.20,182.35 372.00,182.36 372.80,182.37 373.60,182.39 374.40,182.40 375.20,182.41 376.00,182.42 376.80,182.43 377.60,182.45 378.40,182.46 379.20,182.47 380.00,182.49 380.80,182.50 381.60,182.51 382.40,182.52 383.19,182.54 383.99,182.55 384.79,182.56 385.59,182.58 386.39,182.59 387.19,182.60 387.99,182.62 388.79,182.63 389.59,182.64 390.39,182.66 391.19,182.67 391.99,182.68 392.79,182.70 393.59,182.71 394.39,182.73 395.19,182.74 395.99,182.75 396.79,182.77 397.59,182.78 398.39,182.80 399.19,182.81 399.99,182.83 400.79,182.84 401.59,182.86 402.39,182.87 403.19,182.89 403.99,182.90 404.79,182.92 405.59,182.93 406.39,182.95 407.19,182.96 407.99,182.98 408.79,182.99 409.59,183.01 410.39,183.03 411.19,183.04 411.98,183.06 412.78,183.07 413.58,183.09 414.38,183.11 415.18,183.12 415.98,183.14 416.78,183.16 417.58,183.17 418.38,183.19 419.18,183.21 419.98,183.22 420.78,183.24 421.58,183.26 422.38,183.27 423.18,183.29 423.98,183.31 424.78,183.33 425.58,183.34 426.38,183.36 427.18,183.38 427.98,183.40 428.78,183.42 429.58,183.43 430.38,183.45 431.18,183.47 431.98,183.49 432.78,183.51 433.58,183.53 434.38,183.55 435.17,183.56 435.97,183.58 436.77,183.60 437.57,183.62 438.37,183.64 439.17,183.66 439.97,183.68 440.77,183.70 441.57,183.72 442.37,183.74 443.17,183.76 443.97,183.78 444.77,183.80 445.57,183.82 446.37,183.84 447.17,183.86 447.97,183.88 448.77,183.90 449.57,183.92 450.37,183.94 451.17,183.96 451.97,183.98 452.77,184.01 453.57,184.03 454.36,184.05 455.16,184.07 455.96,184.09 456.76,184.11 457.56,184.14 458.36,184.16 459.16,184.18 459.96,184.20 460.76,184.23 461.56,184.25 462.36,184.27 463.16,184.29 463.96,184.32 464.76,184.34 465.56,184.36 466.36,184.39 467.16,184.41 467.96,184.43 468.76,184.46 469.56,184.48 470.36,184.50 471.15,184.53 471.95,184.55 472.75,184.58 473.55,184.60 474.35,184.63 475.15,184.65 475.95,184.67 476.75,184.70 477.55,184.72 478.35,184.75 479.15,184.78 479.95,184.80 480.75,184.83 481.55,184.85 482.35,184.88 483.15,184.90 483.95,184.93 484.75,184.96 485.54,184.98 486.34,185.01 487.14,185.04 487.94,185.06 488.74,185.09 489.54,185.12 490.34,185.14 491.14,185.17 491.94,185.20 492.74,185.23 493.54,185.25 494.34,185.28 495.14,185.31 495.94,185.34 496.74,185.37 497.54,185.39 498.33,185.42 499.13,185.45 499.93,185.48 500.73,185.51 501.53,185.54 502.33,185.57 503.13,185.60 503.93,185.63 504.73,185.66 505.53,185.69 506.33,185.72 507.13,185.75 507.93,185.78 508.73,185.81 509.53,185.84 510.32,185.87 511.12,185.90 511.92,185.93 512.72,185.96 513.52,185.99 514.32,186.03 515.12,186.06 515.92,186.09 516.72,186.12 517.52,186.15 518.32,186.19 519.12,186.22 519.91,186.25 520.71,186.28 521.51,186.32 522.31,186.35 523.11,186.38 523.91,186.42 524.71,186.45 525.51,186.48 526.31,186.52 527.11,186.55 527.91,186.59" stroke="#00ff00" stroke-dasharray="4.2 2.6 9 2.78" stroke-dashoffset="11.01"/>
</g>
<path d="M32.5,28.31V332.69M32.0,180.5H524.60" stroke="#000" stroke-opacity="0.52" stroke-width="1" fill="none"/>
<path d="M32.50,180.50v-6.1M63.24,180.50v-3.7M93.97,180.50v-3.7M124.71,180.50v-3.7M155.45,180.50v-6.1M186.19,180.50v-3.7M216.93,180.50v-3.7M247.66,180.50v-3.7M278.40,180.50v-6.1M309.14,180.50v-3.7M339.88,180.50v-3.7M370.61,180.50v-3.7M401.35,180.50v-6.1M432.09,180.50v-3.7M462.83,180.50v-3.7M493.56,180.50v-3.7M524.30,180.50v-6.1M32.50,332.39h6.1M32.50,322.26h3.7M32.50,312.14h3.7M32.50,302.01h3.7M32.50,291.89h3.7M32.50,281.76h6.1M32.50,271.63h3.7M32.50,261.51h3.7M32.50,251.38h3.7M32.50,241.26h3.7M32.50,231.13h6.1M32.50,221.00h3.7M32.50,210.88h3.7M32.50,200.75h3.7M32.50,190.63h3.7M32.50,180.50h6.1M32.50,170.37h3.7M32.50,160.25h3.7M32.50,150.12h3.7M32.50,140.00h3.7M32.50,129.87h6.1M32.50,119.74h3.7M32.50,109.62h3.7M32.50,99.49h3.7M32.50,89.37h3.7M32.50,79.24h6.1M32.50,69.11h3.7M32.50,58.99h3.7M32.50,48.86h3.7M32.50,38.74h3.7M32.50,28.61h6.1" stroke="#000" stroke-opacity="0.52" stroke-width="0.9" fill="none"/>
<g font-family="'Liberation Serif', serif" font-size="18px" fill="#000" opacity="0.999" text-rendering="geometricPrecision">
<text transform="translate(155.2,200) scale(0.97,1.004)" text-anchor="middle">0.2</text>
<text transform="translate(278.2,200) scale(0.97,1.004)" text-anchor="middle">0.4</text>
<text transform="translate(401.1,200) scale(0.97,1.004)" text-anchor="middle">0.6</text>
<text transform="translate(524.1,200) scale(0.97,1.004)" text-anchor="middle">0.8</text>
<text transform="translate(28.3,34) scale(0.97,1.004)" text-anchor="end">30</text>
<text transform="translate(28.3,85) scale(0.97,1.004)" text-anchor="end">20</text>
<text transform="translate(28.3,135) scale(0.97,1.004)" text-anchor="end">10</text>
<text transform="translate(28.3,186) scale(0.97,1.004)" text-anchor="end">0</text>
<text transform="translate(28.3,237) scale(0.97,1.004)" text-anchor="end"><tspan dy="1.3" font-size="20">−</tspan><tspan dy="-1.3" dx="-0.1">10</tspan></text>
<text transform="translate(28.3,287) scale(0.97,1.004)" text-anchor="end"><tspan dy="1.3" font-size="20">−</tspan><tspan dy="-1.3" dx="-0.1">20</tspan></text>
<text transform="translate(28.3,338) scale(0.97,1.004)" text-anchor="end"><tspan dy="1.3" font-size="20">−</tspan><tspan dy="-1.3" dx="-0.1">30</tspan></text>
<text transform="translate(32.4,16.0) scale(0.95,0.94)" text-anchor="middle" font-style="italic">Q</text>
<text transform="translate(539.3,185.5) scale(0.95,0.9)" text-anchor="middle" font-style="italic">k</text>
</g>
</svg>
</body></html>
